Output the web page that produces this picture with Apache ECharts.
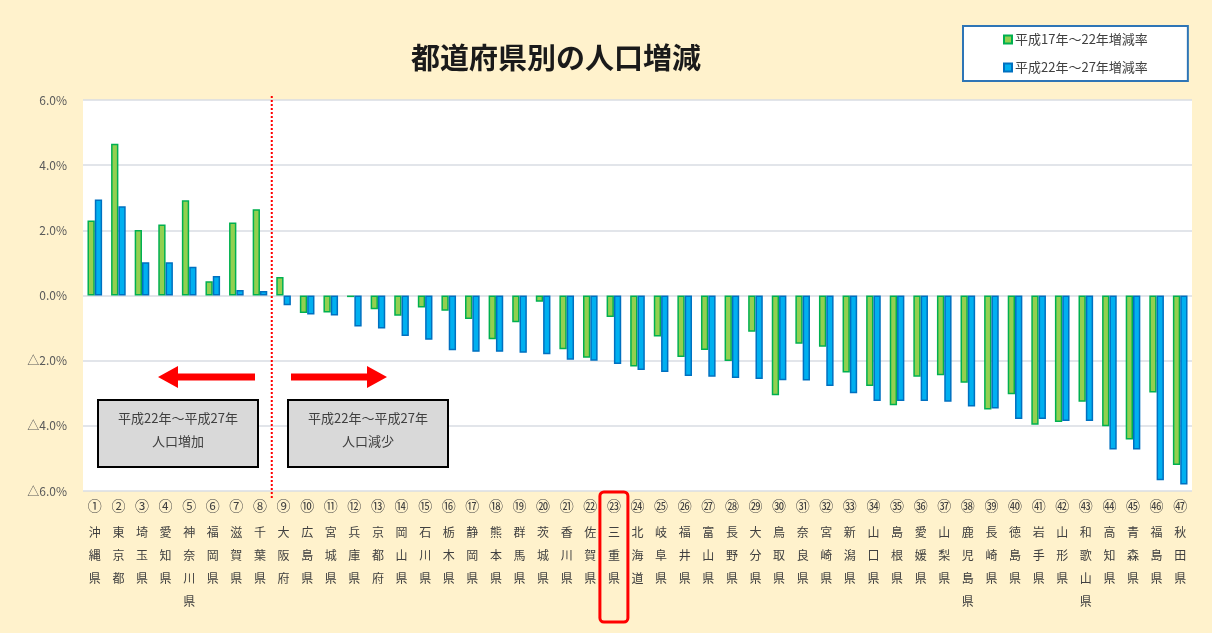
<!DOCTYPE html>
<html>
<head>
<meta charset="utf-8">
<script src="https://cdn.jsdelivr.net/npm/echarts@6/dist/echarts.min.js"></script>
<style>
html,body{margin:0;padding:0;background:#FFF2CC;}
#c{width:1212px;height:633px;}
</style>
</head>
<body>
<div id="c"></div>
<script>
const prefectures = ['沖縄県','東京都','埼玉県','愛知県','神奈川県','福岡県','滋賀県','千葉県','大阪府','広島県','宮城県','兵庫県','京都府','岡山県','石川県','栃木県','静岡県','熊本県','群馬県','茨城県','香川県','佐賀県','三重県','北海道','岐阜県','福井県','富山県','長野県','大分県','鳥取県','奈良県','宮崎県','新潟県','山口県','島根県','愛媛県','山梨県','鹿児島県','長崎県','徳島県','岩手県','山形県','和歌山県','高知県','青森県','福島県','秋田県'];
const rankLabels = ['①','②','③','④','⑤','⑥','⑦','⑧','⑨','⑩','⑪','⑫','⑬','⑭','⑮','⑯','⑰','⑱','⑲','⑳','㉑','㉒','㉓','㉔','㉕','㉖','㉗','㉘','㉙','㉚','㉛','㉜','㉝','㉞','㉟','㊱','㊲','㊳','㊴','㊵','㊶','㊷','㊸','㊹','㊺','㊻','㊼'];
const rateH17H22 = [2.30,4.66,2.01,2.18,2.92,0.44,2.24,2.65,0.57,-0.54,-0.52,-0.05,-0.42,-0.62,-0.37,-0.47,-0.72,-1.34,-0.82,-0.19,-1.65,-1.91,-0.66,-2.18,-1.26,-1.89,-1.67,-2.01,-1.11,-3.06,-1.48,-1.57,-2.36,-2.78,-3.37,-2.49,-2.45,-2.68,-3.50,-3.03,-3.97,-3.88,-3.26,-4.01,-4.42,-2.98,-5.20];
const rateH22H27 = [2.95,2.74,1.02,1.02,0.88,0.60,0.17,0.14,-0.30,-0.58,-0.61,-0.95,-1.01,-1.24,-1.36,-1.68,-1.73,-1.73,-1.76,-1.80,-1.97,-2.00,-2.10,-2.29,-2.35,-2.47,-2.49,-2.53,-2.56,-2.60,-2.61,-2.78,-3.00,-3.24,-3.24,-3.24,-3.26,-3.41,-3.47,-3.79,-3.79,-3.85,-3.85,-4.73,-4.73,-5.67,-5.80];
const seriesNames = ['平成17年～22年増減率','平成22年～27年増減率'];
const yTicks = {min:-6, max:6, interval:2};
const chartTitle = '都道府県別の人口増減';
const boxLine1 = '平成22年～平成27年';
const boxLeft2 = '人口増加';
const boxRight2 = '人口減少';
const highlightIndex = 22;
const dividerAfterIndex = 7;

const FONT = '"Noto Sans CJK JP", "Noto Sans", sans-serif';
const chart = echarts.init(document.getElementById('c'));
const categories = prefectures.map((p,i)=>rankLabels[i]+'|'+p);

const option = {
  backgroundColor:'#FFF2CC',
  textStyle:{fontFamily:FONT},
  title:{text:chartTitle,left:551,top:38,textAlign:'center',
    textStyle:{fontSize:29,fontWeight:'bold',color:'#1a1a1a',fontFamily:FONT}},
  legend:{
    orient:'vertical', left:963, top:26,
    padding:[7,40,7,40], itemGap:15,
    backgroundColor:'#fff', borderColor:'#2E75B6', borderWidth:2, borderRadius:0,
    icon:'rect', itemWidth:8, itemHeight:8,
    textStyle:{fontSize:13,color:'#404040',fontFamily:FONT,padding:[0,0,0,-2]},
    data:seriesNames
  },
  grid:{left:83,right:20,top:100,bottom:142,show:true,backgroundColor:'#fff',borderWidth:0,containLabel:false},
  xAxis:{
    type:'category', data:categories,
    axisLine:{show:false}, axisTick:{show:false},
    splitLine:{show:false},
    axisLabel:{
      interval:0, margin:0,
      formatter:(v)=>{
        const [n,p]=v.split('|');
        return '{n|'+n+'}\n'+p.split('').map(ch=>'{c|'+ch+'}').join('\n');
      },
      rich:{
        n:{fontSize:14,lineHeight:30,color:'#404040',fontFamily:FONT},
        c:{fontSize:12,lineHeight:23,color:'#404040',fontFamily:FONT}
      }
    }
  },
  yAxis:{
    type:'value', min:yTicks.min, max:yTicks.max, interval:yTicks.interval,
    axisLine:{show:false}, axisTick:{show:false},
    splitLine:{lineStyle:{color:'#D9DDE3',width:1.5}},
    axisLabel:{margin:16,fontSize:12,color:'#595959',fontFamily:FONT,
      formatter:(v)=> v<0 ? '△'+Math.abs(v).toFixed(1)+'%' : v.toFixed(1)+'%'}
  },
  series:[
    {name:seriesNames[0],type:'bar',data:rateH17H22,barWidth:'31%',barGap:'0%',
     itemStyle:{color:'#92D050',borderColor:'#00B050',borderWidth:1.5}},
    {name:seriesNames[1],type:'bar',data:rateH22H27,barWidth:'31%',barGap:'0%',
     itemStyle:{color:'#00B0F0',borderColor:'#0070C0',borderWidth:1.5}}
  ]
};
chart.setOption(option);

const px = (i)=>chart.convertToPixel({xAxisIndex:0},categories[i]);
const divX = (px(dividerAfterIndex)+px(dividerAfterIndex+1))/2;
const hx = px(highlightIndex);
const arrowY = 377;
function leftArrow(x0,x1){
  return [[x0,arrowY-3.5],[x1+20,arrowY-3.5],[x1+20,arrowY-11],[x1,arrowY],[x1+20,arrowY+11],[x1+20,arrowY+3.5],[x0,arrowY+3.5]];
}
function rightArrow(x0,x1){
  return [[x0,arrowY-3.5],[x1-20,arrowY-3.5],[x1-20,arrowY-11],[x1,arrowY],[x1-20,arrowY+11],[x1-20,arrowY+3.5],[x0,arrowY+3.5]];
}
function box(x,y,w,h,l2){
  return {type:'group',children:[
    {type:'rect',shape:{x:x,y:y,width:w,height:h},style:{fill:'#D9D9D9',stroke:'#000',lineWidth:2}},
    {type:'text',style:{x:x+w/2,y:y+18,text:boxLine1,align:'center',verticalAlign:'middle',fontSize:13,fill:'#404040',fontFamily:FONT}},
    {type:'text',style:{x:x+w/2,y:y+41,text:l2,align:'center',verticalAlign:'middle',fontSize:13,fill:'#404040',fontFamily:FONT}}
  ]};
}
chart.setOption({graphic:[
  {type:'line',shape:{x1:divX,y1:96,x2:divX,y2:498},style:{stroke:'#FF0000',lineWidth:2,lineDash:[2,2]},z:10},
  {type:'polygon',shape:{points:leftArrow(255,158)},style:{fill:'#FF0000'},z:10},
  {type:'polygon',shape:{points:rightArrow(291,387)},style:{fill:'#FF0000'},z:10},
  box(98,400,160,67,boxLeft2),
  box(288,400,160,67,boxRight2),
  {type:'rect',shape:{x:hx-14,y:492,width:28,height:130,r:4},style:{fill:'none',stroke:'#FF0000',lineWidth:3},z:10}
]});
</script>
</body>
</html>
